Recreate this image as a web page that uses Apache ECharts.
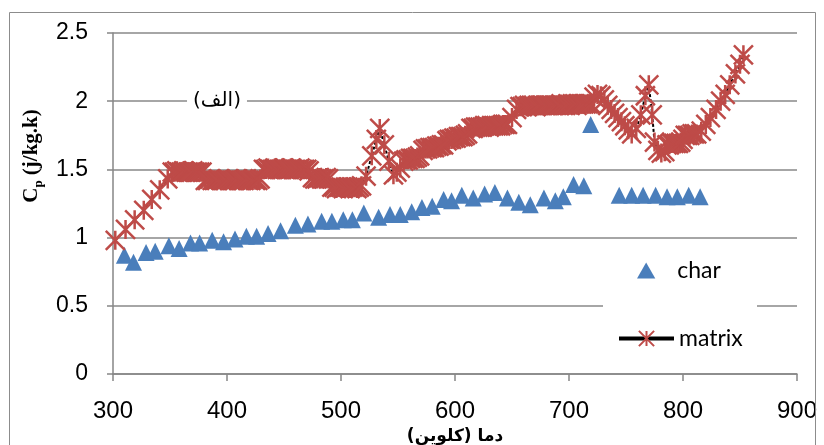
<!DOCTYPE html>
<html>
<head>
<meta charset="utf-8">
<script src="https://cdn.jsdelivr.net/npm/echarts@6/dist/echarts.min.js"></script>
<style>
  html, body { margin: 0; padding: 0; background: #fff; }
  #chart { width: 824px; height: 445px; }
</style>
</head>
<body>
<div id="chart"></div>
<script>
// char (triangles)
const charT  = [310, 318, 329, 337, 349, 358, 368, 376, 387, 397, 407, 417, 426, 436, 447, 460, 471, 483, 492, 502,
                510, 520, 533, 543, 552, 562, 571, 580, 590, 597, 606, 616, 626, 635, 646, 656, 666, 678, 688, 695,
                704, 713, 719, 744, 755, 765, 776, 786, 795, 805, 815]
const charCp = [0.87, 0.82, 0.89, 0.90, 0.94, 0.92, 0.96, 0.96, 0.98, 0.97, 0.99, 1.01, 1.01, 1.03, 1.05, 1.09, 1.10, 1.12, 1.12, 1.13,
                1.13, 1.18, 1.15, 1.17, 1.17, 1.19, 1.22, 1.23, 1.28, 1.27, 1.31, 1.29, 1.32, 1.33, 1.29, 1.26, 1.24, 1.29, 1.27, 1.30,
                1.39, 1.38, 1.83, 1.31, 1.31, 1.31, 1.31, 1.30, 1.30, 1.31, 1.30]

// matrix (stars + line)
const matrixT  = [302, 311, 319, 327, 334, 341, 348,
                  352, 354, 356, 358, 360, 362, 364, 366, 368, 370, 372, 374, 376, 378,
                  381, 383, 385, 387, 389, 391, 393, 395, 397, 399, 401, 403, 405, 407, 409, 411, 413, 415, 417, 419, 421, 423, 425, 427, 429,
                  432, 434, 436, 438, 440, 442, 444, 446, 448, 450, 452, 454, 456, 458, 460, 462, 464, 466, 468, 470, 472,
                  475, 477, 479, 481, 483, 485, 487, 489,
                  492, 494, 496, 498, 500, 502, 504, 506, 508, 510, 512, 514, 516, 518,
                  522, 527, 531, 534, 538, 542, 546,
                  549, 552,
                  555, 557, 559, 561, 563, 565, 567, 569,
                  572, 574, 576, 578, 580, 582, 584, 586, 588, 590,
                  593, 595, 597, 599, 601, 603, 605, 607, 609, 611,
                  614, 616, 618, 620, 622, 624, 626, 628, 630, 632, 634, 636, 638, 640, 642, 644, 646,
                  650, 654,
                  657, 659, 661, 663, 665, 667, 669, 671, 673, 675, 677, 679, 681, 683, 685, 687,
                  689, 691, 693, 695, 697, 699, 701, 703, 705, 707, 709, 711, 713, 715, 717, 719,
                  722, 725, 728, 731, 734, 737, 740, 743, 746, 749, 752, 755, 759, 763, 767, 770, 773, 775,
                  778, 781, 784,
                  786, 788, 790, 792, 794, 796, 798, 800,
                  802, 804, 806, 808, 810, 812,
                  816, 820, 824, 829, 833, 837, 841, 846, 850, 853]
const matrixCp = [0.98, 1.06, 1.13, 1.20, 1.28, 1.35, 1.43,
                  1.48, 1.48, 1.49, 1.48, 1.48, 1.49, 1.48, 1.48, 1.48, 1.49, 1.48, 1.48, 1.48, 1.48,
                  1.42, 1.42, 1.43, 1.42, 1.42, 1.42, 1.43, 1.42, 1.42, 1.42, 1.43, 1.42, 1.42, 1.42, 1.43, 1.42, 1.42, 1.42, 1.43, 1.42, 1.42, 1.43, 1.42, 1.42, 1.43,
                  1.50, 1.50, 1.51, 1.50, 1.50, 1.51, 1.50, 1.50, 1.50, 1.51, 1.50, 1.50, 1.51, 1.50, 1.50, 1.50, 1.51, 1.50, 1.50, 1.50, 1.49,
                  1.44, 1.43, 1.43, 1.44, 1.43, 1.43, 1.44, 1.43,
                  1.37, 1.37, 1.36, 1.37, 1.37, 1.36, 1.37, 1.37, 1.36, 1.37, 1.37, 1.36, 1.37, 1.38,
                  1.45, 1.60, 1.72, 1.80, 1.68, 1.56, 1.46,
                  1.48, 1.51,
                  1.56, 1.57, 1.57, 1.58, 1.58, 1.58, 1.59, 1.60,
                  1.64, 1.65, 1.65, 1.66, 1.66, 1.66, 1.67, 1.67, 1.68, 1.68,
                  1.71, 1.72, 1.72, 1.73, 1.73, 1.74, 1.74, 1.74, 1.75, 1.76,
                  1.80, 1.80, 1.81, 1.81, 1.81, 1.81, 1.82, 1.82, 1.81, 1.82, 1.82, 1.82, 1.82, 1.82, 1.83, 1.83, 1.83,
                  1.88, 1.94,
                  1.96, 1.96, 1.97, 1.96, 1.97, 1.97, 1.97, 1.96, 1.97, 1.97, 1.97, 1.97, 1.97, 1.97, 1.97, 1.97,
                  1.97, 1.97, 1.98, 1.97, 1.97, 1.98, 1.97, 1.98, 1.98, 1.97, 1.98, 1.98, 1.98, 1.98, 1.98, 1.98,
                  2.03, 2.05, 2.04, 2.01, 1.97, 1.94, 1.91, 1.88, 1.85, 1.82, 1.79, 1.76, 1.80, 1.90, 2.04, 2.12, 1.90, 1.70,
                  1.64, 1.62, 1.63,
                  1.68, 1.68, 1.69, 1.69, 1.69, 1.69, 1.70, 1.72,
                  1.75, 1.75, 1.75, 1.76, 1.76, 1.76,
                  1.78, 1.83, 1.88, 1.94, 2.00, 2.05, 2.12, 2.20, 2.27, 2.34]

const BLUE  = '#4A7EBB'
const RED   = '#BE4B48'
const GRID  = '#898989'
const STAR  = 'path://M0,0L20,20M20,0L0,20M10,0L10,20'
const TRI   = 'path://M8,0L16,14L0,14Z'
const RLM   = '\u200F'

const chart = echarts.init(document.getElementById('chart'), null, { renderer: 'canvas' })

chart.setOption({
  backgroundColor: '#fff',
  animation: false,
  grid: { left: 113, right: 27, top: 33, bottom: 71, outerBoundsMode: 'none', containLabel: false },
  xAxis: {
    type: 'value',
    min: 300,
    max: 900,
    interval: 100,
    name: RLM + 'دما (کلوین)' + RLM,
    nameLocation: 'middle',
    nameGap: 53,
    nameTextStyle: { color: '#000', fontSize: 17, fontWeight: 'bold', fontFamily: 'DejaVu Sans' },
    axisLine:  { onZero: false, lineStyle: { color: '#868686', width: 1.5 } },
    axisTick:  { show: true, inside: false, length: 7, lineStyle: { color: '#868686', width: 1.5 } },
    axisLabel: { color: '#000', fontSize: 24, fontFamily: 'Liberation Sans', margin: 25 },
    splitLine: { show: false },
  },
  yAxis: {
    type: 'value',
    min: 0,
    max: 2.5,
    interval: 0.5,
    axisLine:  { show: true, lineStyle: { color: '#868686', width: 1.5 } },
    axisTick:  { show: true, inside: false, length: 6, lineStyle: { color: '#868686', width: 1.5 } },
    axisLabel: { color: '#000', fontSize: 23, fontFamily: 'Liberation Sans', margin: 25 },
    splitLine: { lineStyle: { color: GRID, width: 1.5 } },
  },
  legend: [
    {
      left: 637, top: 259, padding: 0,
      itemWidth: 52, itemHeight: 16,
      symbolKeepAspect: true,
      textStyle: { color: '#000', fontSize: 23, fontFamily: 'Lato' },
      data: [{ name: 'char', icon: TRI }],
    },
    {
      left: 617, top: 327, padding: 0,
      itemWidth: 55, itemHeight: 19,
      textStyle: { color: '#000', fontSize: 23, fontFamily: 'Lato' },
      lineStyle: { color: '#000', width: 4, type: 'solid' },
      data: ['matrix'],
    },
  ],
  graphic: [
    { type: 'rect', z: 1, silent: true,
      shape: { x: 9.5, y: 12.5, width: 806, height: 440 },
      style: { fill: 'none', stroke: '#8c8c8c', lineWidth: 1 } },
    { type: 'rect', z: 1, silent: true,
      shape: { x: 603, y: 247, width: 154, height: 115 },
      style: { fill: '#fff' } },
    { type: 'text', z: 5, silent: true, x: 217, y: 101,
      style: { text: '(الف)', fill: '#000', font: '20px "DejaVu Sans"', align: 'center', verticalAlign: 'middle',
               backgroundColor: '#fff', padding: [2, 6] } },
    { type: 'text', z: 5, silent: true, x: 32, y: 156, rotation: Math.PI / 2,
      style: {
        text: '{c|C}{p|p}{c| (j/kg.k)}',
        align: 'center', verticalAlign: 'middle',
        rich: {
          c: { fontSize: 21, fontWeight: 'bold', fontFamily: 'Liberation Serif', fill: '#000', lineHeight: 26 },
          p: { fontSize: 13, fontWeight: 'bold', fontFamily: 'Liberation Serif', fill: '#000', lineHeight: 26, verticalAlign: 'bottom', padding: [9, 0, 0, 0] },
        },
      } },
  ],
  series: [
    {
      name: 'char',
      type: 'scatter',
      data: charT.map((t, i) => [t, charCp[i]]),
      symbol: TRI,
      symbolSize: [17, 17],
      itemStyle: { color: BLUE, opacity: 1 },
      z: 3,
    },
    {
      name: 'matrix',
      type: 'line',
      data: matrixT.map((t, i) => [t, matrixCp[i]]),
      symbol: STAR,
      symbolSize: 19,
      showAllSymbol: true,
      itemStyle: { color: RED, borderColor: RED, borderWidth: 2.5 },
      lineStyle: { color: '#000', width: 2, type: [3, 2] },
      z: 4,
    },
  ],
})
</script>
</body>
</html>
